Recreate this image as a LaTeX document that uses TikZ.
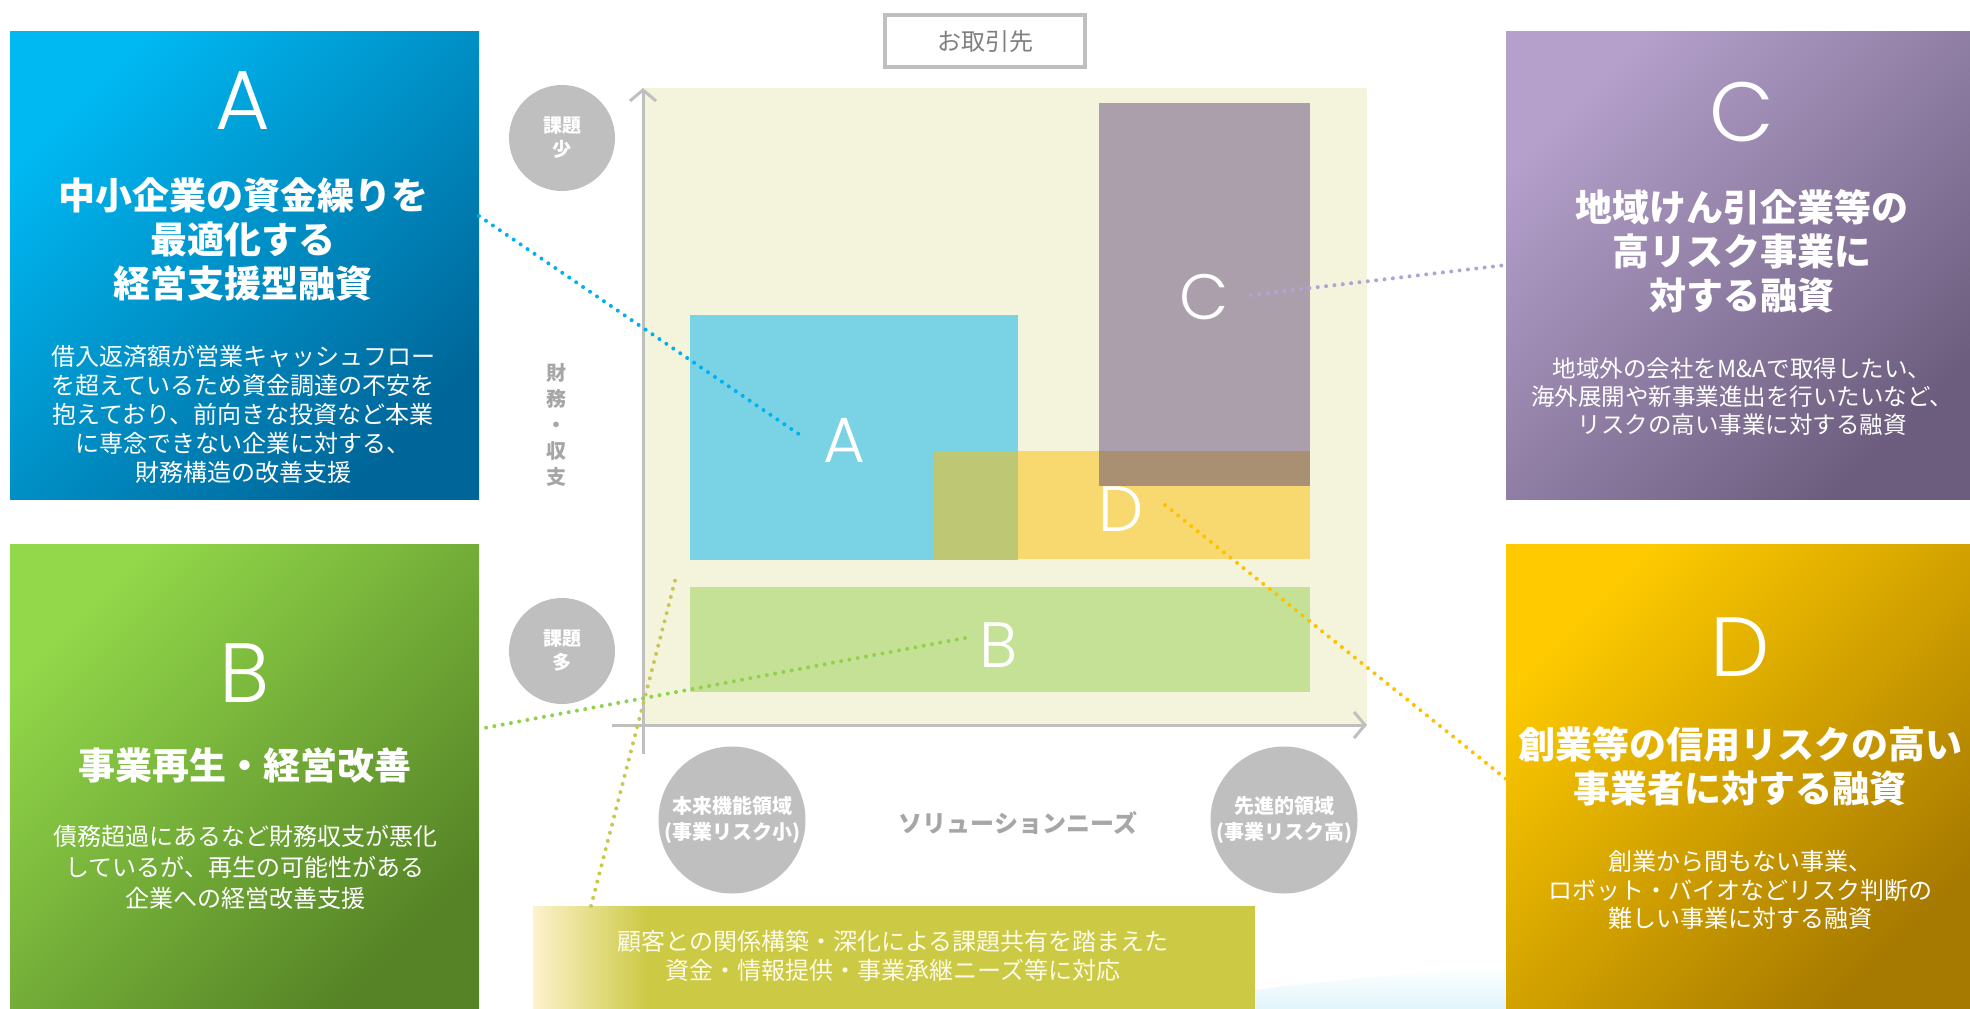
\documentclass[tikz,border=0pt]{standalone}
\usepackage{fontspec}
\newfontfamily\jp{Noto Sans CJK JP}
\newfontfamily\letterfont{Poppins Light}
\usetikzlibrary{arrows.meta}
\definecolor{chartbg}{HTML}{F4F4DC}
\definecolor{rAcol}{HTML}{7AD3E5}
\definecolor{rCcol}{HTML}{AA9FAB}
\definecolor{rDcol}{HTML}{F7D96F}
\definecolor{rADcol}{HTML}{BEC774}
\definecolor{rCDcol}{HTML}{AA9072}
\definecolor{rBcol}{HTML}{C5E195}
\definecolor{axiscol}{HTML}{BFBFBF}
\definecolor{circcol}{HTML}{BFBFBF}
\definecolor{graytext}{HTML}{A6A6A6}
\definecolor{boxtext}{HTML}{7F7F7F}
\definecolor{bandcol}{HTML}{CCC944}
\definecolor{bandlight}{HTML}{FDF2CC}
\definecolor{bandtext}{HTML}{FBFBE6}
\definecolor{dotA}{HTML}{00B0F0}
\definecolor{dotB}{HTML}{92D050}
\definecolor{dotC}{HTML}{B3A2D4}
\definecolor{dotD}{HTML}{FFC000}
\definecolor{dotBand}{HTML}{C8C850}
\definecolor{swoosh}{HTML}{E0F5FB}
\definecolor{pAtop}{HTML}{00B8F2}
\definecolor{pAbot}{HTML}{006699}
\definecolor{pBtop}{HTML}{92D84A}
\definecolor{pBbot}{HTML}{558326}
\definecolor{pCtop}{HTML}{B4A0CB}
\definecolor{pCbot}{HTML}{6C5D7E}
\definecolor{pDtop}{HTML}{FFCB00}
\definecolor{pDbot}{HTML}{A67900}
\begin{document}
\begin{tikzpicture}[x=1pt,y=-1pt,
  panel/.style={anchor=north west, inner sep=0pt, minimum width=469pt, minimum height=468pt},
  diag/.style 2 args={top color=#1, bottom color=#2, shading angle=45},
  bigletter/.style={text=white, inner sep=0pt, font=\letterfont\fontsize{84}{84}\selectfont},
  chartletter/.style={text=white, inner sep=0pt, font=\letterfont\fontsize{64}{64}\selectfont},
  ptitle/.style={text=white, align=center, inner sep=0pt, font=\jp\bfseries\fontsize{37}{44}\selectfont},
  pbody/.style={text=white, align=center, inner sep=0pt, font=\jp\fontsize{24}{29}\selectfont},
  region/.style={anchor=north west, inner sep=0pt},
  graycirc/.style={circle, fill=circcol, inner sep=0pt, text=white, align=center},
  axisline/.style={draw=axiscol, line width=3pt, -{Straight Barb[length=11pt,width=26pt]}},
  dotline/.style={line width=4pt, line cap=round, dash pattern=on 0pt off 8.4pt}
]
\useasboundingbox (0,0) rectangle (1970,1009);
\fill[white] (0,0) rectangle (1970,1009);

% faint swoosh
\shade[top color=white, bottom color=swoosh] (1255,1009) -- (1255,990) .. controls (1330,980) and (1430,972) .. (1506,966) -- (1506,1009) -- cycle;

% ---------- panels ----------
\node[panel, diag={pAtop}{pAbot}] (pA) at (10,31) {};
\node[panel, minimum height=465pt, diag={pBtop}{pBbot}] (pB) at (10,544) {};
\node[panel, minimum width=464pt, diag={pCtop}{pCbot}] (pC) at (1506,31) {};
\node[panel, minimum width=464pt, minimum height=465pt, diag={pDtop}{pDbot}] (pD) at (1506,544) {};

% panel A text
\node[bigletter] (tA) at (243,101) {A};
\node[ptitle] (hA) at (243,239) {中小企業の資金繰りを\\最適化する\\経営支援型融資};
\node[pbody] (bA) at (243,414) {借入返済額が営業キャッシュフロー\\を超えているため資金調達の不安を\\抱えており、前向きな投資など本業\\に専念できない企業に対する、\\財務構造の改善支援};

% panel B text
\node[bigletter] (tB) at (245,673) {B};
\node[ptitle] (hB) at (245,765) {事業再生・経営改善};
\node[pbody, font=\jp\fontsize{24}{31}\selectfont] (bB) at (245,867) {債務超過にあるなど財務収支が悪化\\しているが、再生の可能性がある\\企業への経営改善支援};

% panel C text
\node[bigletter] (tC) at (1742,112) {C};
\node[ptitle] (hC) at (1742,251) {地域けん引企業等の\\高リスク事業に\\対する融資};
\node[pbody, font=\jp\fontsize{23.5}{28}\selectfont] (bC) at (1742,397) {地域外の会社をM\&Aで取得したい、\\海外展開や新事業進出を行いたいなど、\\リスクの高い事業に対する融資};

% panel D text
\node[bigletter] (tD) at (1740,647) {D};
\node[ptitle] (hD) at (1740,766) {創業等の信用リスクの高い\\事業者に対する融資};
\node[pbody, font=\jp\fontsize{24}{28.5}\selectfont] (bD) at (1740,890) {創業から間もない事業、\\ロボット・バイオなどリスク判断の\\難しい事業に対する融資};

% ---------- bottom band ----------
\node[region, fill=bandcol, minimum width=722pt, minimum height=103pt] (band) at (533,906) {};
\shade[left color=bandlight, right color=bandcol] (band.north west) rectangle ++(115,103);
\node[text=bandtext, align=center, font=\jp\fontsize{24}{29}\selectfont] (bandtxt) at (893,956) {顧客との関係構築・深化による課題共有を踏まえた\\資金・情報提供・事業承継ニーズ等に対応};

% ---------- chart ----------
\fill[chartbg] (643,88) rectangle (1367,725);
\node[region, fill=rAcol, minimum width=328pt, minimum height=245pt] (rA) at (690,315) {};
\node[region, fill=rCcol, minimum width=211pt, minimum height=383pt] (rC) at (1099,103) {};
\node[region, fill=rDcol, minimum width=377pt, minimum height=108pt] (rD) at (933,451) {};
\node[region, fill=rADcol, minimum width=85pt, minimum height=108pt] (rAD) at (933,451) {};
\node[region, fill=rCDcol, minimum width=211pt, minimum height=35pt] (rCD) at (1099,451) {};
\node[region, fill=rBcol, minimum width=620pt, minimum height=105pt] (rB) at (690,587) {};

\node[chartletter] (lA) at (844,440) {A};
\node[chartletter] (lC) at (1204,297) {C};
\node[chartletter] (lD) at (1121,509) {D};
\node[chartletter] (lB) at (999,645) {B};

% axes
\coordinate (yb) at (643,754);
\coordinate (yt) at (643,88);
\coordinate (xl) at (612,725);
\coordinate (xr) at (1367,725);
\draw[axisline] (yb) -- (yt);
\draw[axisline] (xl) -- (xr);

% circles
\node[graycirc, minimum size=106pt, font=\jp\bfseries\fontsize{19}{24}\selectfont] (few) at (562,138) {課題\\少};
\node[graycirc, minimum size=106pt, font=\jp\bfseries\fontsize{19}{24}\selectfont] (many) at (562,651) {課題\\多};
\node[graycirc, minimum size=147pt, font=\jp\bfseries\fontsize{20}{26}\selectfont] (basic) at (732,820) {本来機能領域\\(事業リスク小)};
\node[graycirc, minimum size=147pt, font=\jp\bfseries\fontsize{20}{26}\selectfont] (adv) at (1284,820) {先進的領域\\(事業リスク高)};

% axis labels
\node[text=graytext, align=center, font=\jp\bfseries\fontsize{20}{26}\selectfont] (ylab) at (556,425) {財\\務\\・\\収\\支};
\node[text=graytext, font=\jp\bfseries\fontsize{24}{24}\selectfont] (xlab) at (1018,823) {ソリューションニーズ};

% client box
\node[draw=axiscol, line width=4pt, minimum width=200pt, minimum height=52pt, text=boxtext, font=\jp\fontsize{24}{24}\selectfont] (client) at (985,41) {お取引先};

% ---------- dotted connectors ----------
\coordinate (aS) at (479,216);
\coordinate (aE) at (803,437);
\coordinate (cS) at (1251,295);
\coordinate (cE) at (1506,265);
\coordinate (dS) at (1165,505);
\coordinate (dE) at (1506,779);
\coordinate (bS) at (965,638);
\coordinate (bE) at (479,729);
\coordinate (nS) at (591,906);
\coordinate (nE) at (677,573);
\draw[dotline, dotA] (aS) -- (aE);
\draw[dotline, dotC] (cS) -- (cE);
\draw[dotline, dotD] (dS) -- (dE);
\draw[dotline, dotB] (bS) -- (bE);
\draw[dotline, dotBand] (nS) -- (nE);
\end{tikzpicture}
\end{document}
